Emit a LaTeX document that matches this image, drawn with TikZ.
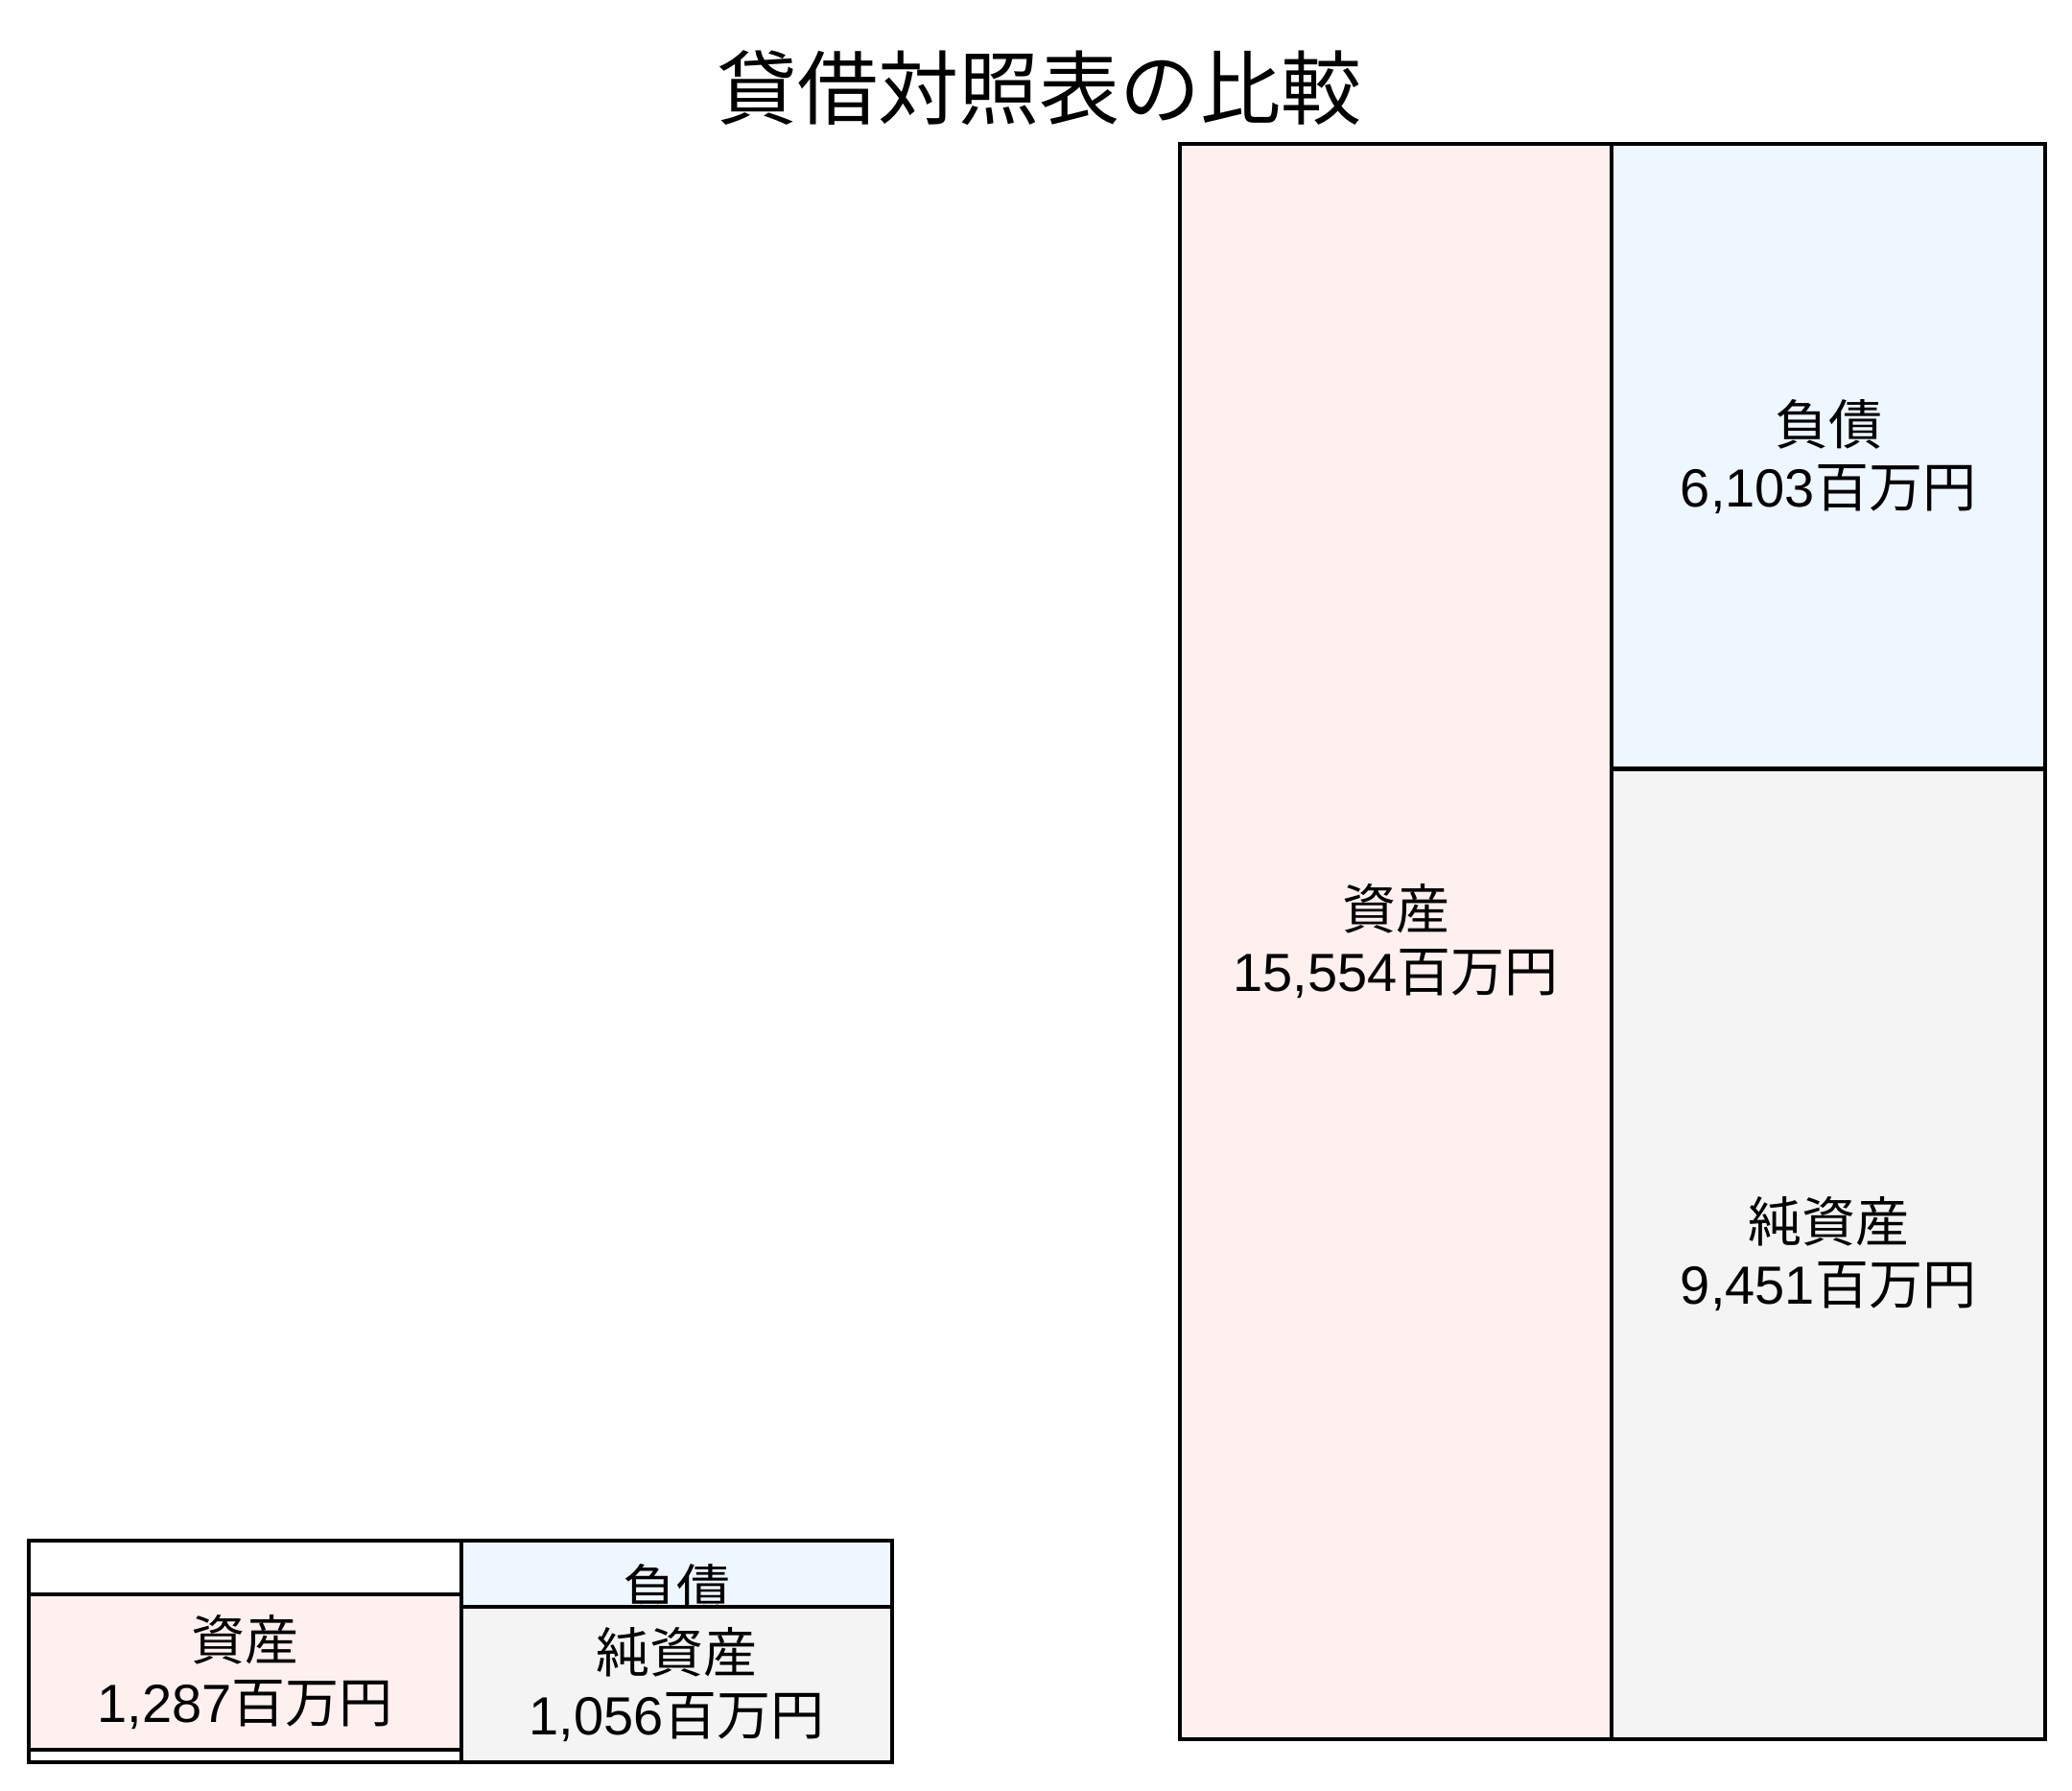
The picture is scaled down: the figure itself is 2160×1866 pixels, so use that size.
\documentclass[tikz,border=0pt]{standalone}
\usepackage{fontspec}
\setmainfont{Liberation Sans}
\newfontfamily\cjk{Noto Sans CJK JP}
\definecolor{assetpink}{HTML}{FDF0EF}
\definecolor{liabblue}{HTML}{EEF6FF}
\definecolor{netgray}{HTML}{F4F4F4}
\tikzset{
  bsbox/.style={draw=black, line width=4.2pt, inner sep=0pt, outer sep=0pt, rectangle, align=center,
     font=\fontsize{56}{65}\selectfont},
  bslabel/.style={inner sep=0pt, outer sep=0pt, align=center, font=\fontsize{56}{65}\selectfont},
  titlestyle/.style={inner sep=0pt, font=\fontsize{84}{90}\selectfont\cjk}
}
\begin{document}
\begin{tikzpicture}[x=1pt, y=-1pt]
\useasboundingbox (0,0) rectangle (2160,1866);
% title
\node[titlestyle] (title) at (1083,92) {貸借対照表の比較};
% large balance sheet
\node[bsbox, fill=assetpink, minimum width=450pt, minimum height=1663pt] (bigasset) at (1455,981.5)
  {{\cjk 資産}\\15,554{\cjk 百万円}};
\node[bsbox, fill=liabblue, minimum width=452pt, minimum height=651.5pt] (bigliab) at (1906,475.75)
  {{\cjk 負債}\\6,103{\cjk 百万円}};
\node[bsbox, fill=netgray, minimum width=452pt, minimum height=1011.5pt] (bignet) at (1906,1307.25)
  {{\cjk 純資産}\\9,451{\cjk 百万円}};
% small balance sheet
\node[bsbox, fill=white, minimum width=451pt, minimum height=231pt] (smallframe) at (255.5,1721.5) {};
\node[bsbox, fill=assetpink, minimum width=451pt, minimum height=162pt] (smallasset) at (255.5,1743)
  {{\cjk 資産}\\1,287{\cjk 百万円}};
\node[bsbox, fill=liabblue, minimum width=449pt, minimum height=69pt] (smallliab) at (705.5,1640.5) {};
\node[bslabel] (smallliablabel) at (705.5,1656) {\cjk 負債};
\node[bsbox, fill=netgray, minimum width=449pt, minimum height=162pt] (smallnet) at (705.5,1756)
  {{\cjk 純資産}\\1,056{\cjk 百万円}};
\end{tikzpicture}
\end{document}
